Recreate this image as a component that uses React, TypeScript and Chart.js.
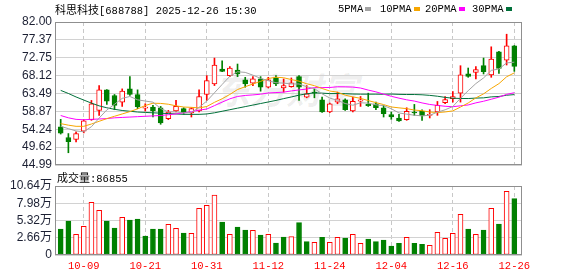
import React, { useEffect, useRef } from "react";
import { Chart, registerables } from "chart.js";
Chart.register(...registerables);

const dates = [
  "09-26", "09-29", "09-30", "10-09", "10-10", "10-13", "10-14", "10-15", "10-16", "10-17",
  "10-20", "10-21", "10-22", "10-23", "10-24", "10-27", "10-28", "10-29", "10-30", "10-31",
  "11-03", "11-04", "11-05", "11-06", "11-07", "11-10", "11-11", "11-12", "11-13", "11-14",
  "11-17", "11-18", "11-19", "11-20", "11-21", "11-24", "11-25", "11-26", "11-27", "11-28",
  "12-01", "12-02", "12-03", "12-04", "12-05", "12-08", "12-09", "12-10", "12-11", "12-12",
  "12-15", "12-16", "12-17", "12-18", "12-19", "12-22", "12-23", "12-24", "12-25", "12-26",
];

const openP = [
  54.84, 52.1, 51.59, 53.73, 56.73, 59.13, 64.44, 62.98, 61.27, 64.69,
  63.24, 59.72, 59.98, 59.81, 56.98, 58.96, 59.56, 58.44, 58.96, 63.24,
  65.98, 69.83, 68.12, 69.58, 67.01, 66.15, 67.26, 65.12, 67.52, 64.95,
  65.29, 67.86, 62.55, 63.84, 61.87, 58.7, 61.27, 61.87, 58.96, 61.52,
  60.67, 60.84, 59.81, 58.01, 57.16, 56.74, 58.7, 58.87, 57.84, 58.7,
  61.1, 62.13, 63.57, 68.56, 68.97, 70.69, 68.3, 74.29, 72.15, 75.83,
];
const highP = [
  56.8, 53.13, 53.56, 56.73, 61.7, 65.55, 64.5, 63.24, 64.69, 67.86,
  64.44, 60.84, 60.41, 60.15, 59.13, 61.7, 59.81, 59.81, 64.44, 68.12,
  72.66, 71.98, 70.43, 71.12, 67.69, 67.86, 67.86, 67.69, 68.12, 67.26,
  67.52, 68.12, 65.55, 64.69, 62.55, 61.01, 63.84, 62.12, 62.55, 62.72,
  63.58, 61.27, 60.41, 58.7, 58.1, 59.81, 60.67, 59.3, 59.3, 61.44,
  62.72, 64.01, 70.69, 70.09, 70.43, 72.67, 75.58, 74.38, 78.84, 75.92,
];
const lowP = [
  53.0, 48.16, 50.99, 53.3, 56.56, 57.84, 60.67, 59.3, 60.15, 62.98,
  59.56, 58.96, 57.41, 55.53, 56.73, 58.7, 58.1, 57.41, 58.7, 61.7,
  65.55, 69.15, 67.86, 67.86, 65.12, 65.55, 64.09, 64.95, 65.55, 63.84,
  65.12, 61.7, 62.38, 62.38, 58.61, 58.53, 60.84, 59.13, 58.7, 60.15,
  60.15, 59.3, 57.41, 56.81, 56.3, 56.56, 57.84, 56.56, 57.16, 57.84,
  60.84, 61.27, 61.27, 67.69, 67.27, 68.55, 67.69, 68.71, 70.87, 69.23,
];
const closeP = [
  53.2, 51.0, 53.13, 56.39, 60.84, 64.44, 61.52, 60.41, 64.09, 63.24,
  60.1, 59.95, 58.96, 55.87, 58.7, 60.15, 58.44, 59.56, 62.72, 66.84,
  70.86, 69.24, 70.09, 68.55, 65.98, 67.26, 65.12, 67.01, 65.98, 65.55,
  66.24, 65.12, 63.41, 63.58, 58.7, 60.84, 62.12, 59.3, 61.44, 61.87,
  60.33, 59.81, 58.27, 57.41, 56.39, 58.87, 58.44, 57.67, 58.1, 60.41,
  61.95, 62.72, 68.3, 67.94, 69.66, 69.15, 72.41, 70.0, 75.83, 70.51,
];
// 成交量 (万股)
const volume = [
  4.01, 5.24, 3.19, 4.42, 8.12, 6.89, 5.24, 4.16, 5.81, 5.4,
  5.55, 2.93, 4.01, 4.01, 4.73, 4.11, 3.39, 3.34, 7.2, 7.66,
  9.25, 5.09, 3.19, 4.32, 3.86, 3.8, 3.08, 3.19, 1.85, 2.78,
  2.83, 4.99, 2.06, 1.95, 2.72, 1.95, 2.72, 2.62, 3.19, 1.8,
  2.47, 2.06, 2.31, 1.39, 1.8, 2.72, 1.8, 1.64, 1.49, 3.49,
  2.57, 3.34, 6.27, 4.01, 3.19, 3.86, 7.2, 4.78, 9.82, 8.6855,
];

const ma5 = [
  55.0, 54.4, 53.8, 53.6, 54.9, 57.14, 59.24, 60.7, 62.24, 62.72,
  61.86, 61.54, 61.26, 59.62, 58.72, 58.74, 58.44, 58.56, 59.92, 61.54,
  63.68, 65.84, 67.94, 69.12, 68.96, 68.24, 67.42, 66.8, 66.28, 66.18,
  65.96, 65.96, 65.24, 64.76, 63.4, 62.32, 61.72, 60.9, 60.46, 61.1,
  61.0, 60.56, 60.36, 59.56, 58.46, 58.16, 57.86, 57.72, 57.86, 58.66,
  59.28, 60.12, 62.26, 64.22, 66.06, 67.52, 69.48, 69.84, 71.42, 71.6,
];
const ma10 = [
  55.7, 55.3, 55.0, 55.0, 55.6, 56.3, 57.0, 57.6, 58.2, 58.81,
  59.5, 60.39, 60.98, 60.93, 60.72, 60.3, 59.99, 59.91, 59.77, 60.13,
  61.21, 62.14, 63.25, 64.52, 65.25, 65.96, 66.63, 67.37, 67.7, 67.57,
  67.1, 66.69, 66.02, 65.52, 64.79, 64.14, 63.84, 63.07, 62.61, 62.25,
  61.66, 61.14, 60.63, 60.01, 59.78, 59.58, 59.21, 59.04, 58.71, 58.56,
  58.72, 58.99, 59.99, 61.04, 62.36, 63.4, 64.8, 66.05, 67.82, 68.83,
];
const ma20 = [
  57.8, 57.2, 56.8, 56.7, 56.8, 56.9, 57.0, 57.2, 57.3, 57.4,
  57.5, 57.6, 57.7, 57.8, 58.0, 58.2, 58.5, 58.8, 59.2, 59.47,
  60.36, 61.27, 62.12, 62.73, 62.99, 63.13, 63.31, 63.64, 63.74, 63.85,
  64.16, 64.42, 64.64, 65.02, 65.02, 65.05, 65.24, 65.22, 65.16, 64.91,
  64.38, 63.92, 63.33, 62.77, 62.29, 61.86, 61.53, 61.06, 60.66, 60.41,
  60.19, 60.07, 60.31, 60.53, 61.07, 61.49, 62.01, 62.55, 63.27, 63.7,
];
const ma30 = [
  64.3, 63.5, 62.6, 61.8, 61.0, 60.3, 59.8, 59.4, 59.1, 58.9,
  58.7, 58.6, 58.5, 58.4, 58.3, 58.2, 58.1, 58.1, 58.1, 58.2,
  58.5, 58.9, 59.3, 59.7, 60.1, 60.5, 60.9, 61.3, 61.7, 62.17,
  62.6, 63.07, 63.42, 63.66, 63.59, 63.47, 63.49, 63.45, 63.36, 63.32,
  63.32, 63.32, 63.3, 63.35, 63.27, 63.23, 63.23, 63.16, 63.01, 62.79,
  62.49, 62.27, 62.21, 62.19, 62.31, 62.37, 62.62, 62.72, 63.05, 63.21,
];

const priceTicks = [44.99, 49.62, 54.24, 58.87, 63.49, 68.12, 72.75, 77.37, 82.0];
const volTicks = [0, 2.66, 5.32, 7.98, 10.64];
const tickDates = ["10-09", "10-21", "10-31", "11-12", "11-24", "12-04", "12-16", "12-26"];

const RED = "#ff0000";
const GREEN = "#008000";
const MA_COLORS = ["#a3a3a3", "#f7a600", "#ff00ff", "#00703a"];
const AXIS_TEXT = "#1c2033";

const framePlugin = {
  id: "frame",
  afterDraw(chart: any) {
    const { left, top, right, bottom } = chart.chartArea;
    const ctx = chart.ctx;
    ctx.save();
    ctx.strokeStyle = "#8f8f8f";
    ctx.lineWidth = 1;
    const l = Math.round(left) + 0.5;
    const t = Math.round(top) + 0.5;
    const r = Math.round(right) - 0.5;
    const b = Math.round(bottom) - 0.5;
    ctx.strokeRect(l, t, r - l, b - t);
    ctx.restore();
  },
};

function xScale(showLabels: boolean) {
  return {
    type: "linear",
    min: -0.74,
    max: 60,
    offset: false,
    afterBuildTicks: (s: any) => {
      s.ticks = tickDates.map((d) => ({ value: dates.indexOf(d) }));
    },
    afterFit: (s: any) => {
      s.height = showLabels ? 21 : 0;
    },
    grid: { color: "#c8c8c8", drawTicks: false, offset: false, lineWidth: 1 },
    border: { display: false, dash: [4, 3] },
    ticks: {
      display: showLabels,
      autoSkip: false,
      maxRotation: 0,
      padding: 5,
      color: RED,
      font: { family: "'Liberation Mono', monospace", size: 10.5 },
      callback: (v: any) => dates[v] ?? "",
    },
  };
}

export default function App() {
  const priceRef = useRef<HTMLCanvasElement>(null);
  const volRef = useRef<HTMLCanvasElement>(null);

  useEffect(() => {
    const up = closeP.map((c, i) => c >= openP[i]);
    const volUp = closeP.map((c, i) => (i === 0 ? up[0] : c >= closeP[i - 1]));
    const idx = dates.map((_, i) => i);

    const lineDs = (label: string, values: number[], color: string, order: number) => ({
      type: "line",
      label,
      data: idx.map((i) => ({ x: i, y: values[i] })),
      borderColor: color,
      borderWidth: 1,
      pointRadius: 0,
      tension: 0,
      fill: false,
      order,
    });

    const pc = new Chart(priceRef.current as HTMLCanvasElement, {
      type: "bar",
      data: {
        datasets: [
          {
            type: "bar",
            label: "wick",
            data: idx.map((i) => ({ x: i, y: [lowP[i], highP[i]] })),
            backgroundColor: idx.map((i) => (up[i] ? RED : GREEN)),
            barThickness: 1,
            grouped: false,
            order: 6,
          },
          {
            type: "bar",
            label: "body",
            data: idx.map((i) => ({ x: i, y: [openP[i], closeP[i]] })),
            backgroundColor: idx.map((i) => (up[i] ? "#ffffff" : GREEN)),
            borderColor: idx.map((i) => (up[i] ? RED : GREEN)),
            borderWidth: 1,
            borderSkipped: false,
            barThickness: 5,
            minBarLength: 1,
            grouped: false,
            order: 5,
          },
          lineDs("30PMA", ma30, MA_COLORS[3], 4),
          lineDs("20PMA", ma20, MA_COLORS[2], 3),
          lineDs("10PMA", ma10, MA_COLORS[1], 2),
          lineDs("5PMA", ma5, MA_COLORS[0], 1),
        ] as any,
      },
      options: {
        responsive: false,
        animation: false,
        layout: { padding: { top: 22, right: 56, bottom: 13, left: 0 } },
        plugins: { legend: { display: false }, tooltip: { enabled: false } },
        scales: {
          x: xScale(false) as any,
          y: {
            type: "linear",
            min: priceTicks[0],
            max: priceTicks[priceTicks.length - 1],
            beginAtZero: false,
            afterBuildTicks: (s: any) => {
              s.ticks = priceTicks.map((v) => ({ value: v }));
            },
            afterFit: (s: any) => {
              s.width = 55;
            },
            grid: { color: "#d2d2d2", drawTicks: false },
            border: { display: false },
            ticks: {
              autoSkip: false,
              padding: 3,
              color: AXIS_TEXT,
              font: { family: "'Liberation Sans', Arial, sans-serif", size: 12 },
              callback: (v: any) => Number(v).toFixed(2),
            },
          } as any,
        },
      },
      plugins: [framePlugin],
    });

    const vc = new Chart(volRef.current as HTMLCanvasElement, {
      type: "bar",
      data: {
        datasets: [
          {
            label: "成交量",
            data: idx.map((i) => ({ x: i, y: volume[i] })),
            backgroundColor: idx.map((i) => (volUp[i] ? "#ffffff" : GREEN)),
            borderColor: idx.map((i) => (volUp[i] ? RED : GREEN)),
            borderWidth: 1,
            borderSkipped: false,
            barThickness: 5,
            grouped: false,
          },
        ] as any,
      },
      options: {
        responsive: false,
        animation: false,
        layout: { padding: { top: 14, right: 56, bottom: 0, left: 0 } },
        plugins: { legend: { display: false }, tooltip: { enabled: false } },
        scales: {
          x: xScale(true) as any,
          y: {
            type: "linear",
            min: volTicks[0],
            max: volTicks[volTicks.length - 1],
            afterBuildTicks: (s: any) => {
              s.ticks = volTicks.map((v) => ({ value: v }));
            },
            afterFit: (s: any) => {
              s.width = 55;
            },
            grid: { color: "#d2d2d2", drawTicks: false },
            border: { display: false },
            ticks: {
              autoSkip: false,
              padding: 3,
              color: AXIS_TEXT,
              font: { family: "'Liberation Sans', Arial, 'Noto Sans CJK SC', sans-serif", size: 12 },
              callback: (v: any) => (Number(v) === 0 ? "0" : Number(v).toFixed(2) + "万"),
            },
          } as any,
        },
      },
      plugins: [framePlugin],
    });

    return () => {
      pc.destroy();
      vc.destroy();
    };
  }, []);

  const mono = "'Liberation Mono', monospace";
  const cjk = "'Noto Sans CJK SC', sans-serif";
  const legendItems = [
    { label: "5PMA", color: MA_COLORS[0], left: 338 },
    { label: "10PMA", color: MA_COLORS[1], left: 380 },
    { label: "20PMA", color: MA_COLORS[2], left: 425 },
    { label: "30PMA", color: MA_COLORS[3], left: 472 },
  ];

  return (
    <div
      style={{
        position: "absolute",
        left: 0,
        top: 0,
        width: 578,
        height: 276,
        background: "#ffffff",
        overflow: "hidden",
      }}
    >
      <div
        style={{
          position: "absolute",
          left: 214,
          top: 68,
          fontFamily: cjk,
          fontSize: 36,
          fontWeight: 700,
          fontStyle: "italic",
          color: "rgba(0,0,0,0.07)",
          whiteSpace: "nowrap",
          lineHeight: "40px",
        }}
      >
        东方财富
      </div>
      <canvas
        ref={priceRef}
        width={578}
        height={178}
        style={{ position: "absolute", left: 0, top: 0, width: 578, height: 178 }}
      />
      <canvas
        ref={volRef}
        width={578}
        height={104}
        style={{ position: "absolute", left: 0, top: 172, width: 578, height: 104 }}
      />
      <div
        style={{
          position: "absolute",
          left: 55,
          top: 2,
          lineHeight: "14px",
          whiteSpace: "nowrap",
          color: "#000",
        }}
      >
        <span style={{ fontFamily: cjk, fontSize: 11 }}>科思科技</span>
        <span style={{ fontFamily: mono, fontSize: 10.5 }}>[688788] 2025-12-26 15:30</span>
      </div>
      {legendItems.map((it) => (
        <div
          key={it.label}
          style={{
            position: "absolute",
            left: it.left,
            top: 2,
            lineHeight: "14px",
            whiteSpace: "nowrap",
            fontFamily: mono,
            fontSize: 10.5,
            color: "#000",
          }}
        >
          {it.label}
          <span
            style={{
              display: "inline-block",
              width: 6,
              height: 4,
              marginLeft: 2,
              background: it.color,
              verticalAlign: "middle",
            }}
          />
        </div>
      ))}
      <div
        style={{
          position: "absolute",
          left: 57,
          top: 170,
          lineHeight: "14px",
          whiteSpace: "nowrap",
          color: "#000",
        }}
      >
        <span style={{ fontFamily: cjk, fontSize: 11 }}>成交量</span>
        <span style={{ fontFamily: mono, fontSize: 10.5 }}>:86855</span>
      </div>
    </div>
  );
}
